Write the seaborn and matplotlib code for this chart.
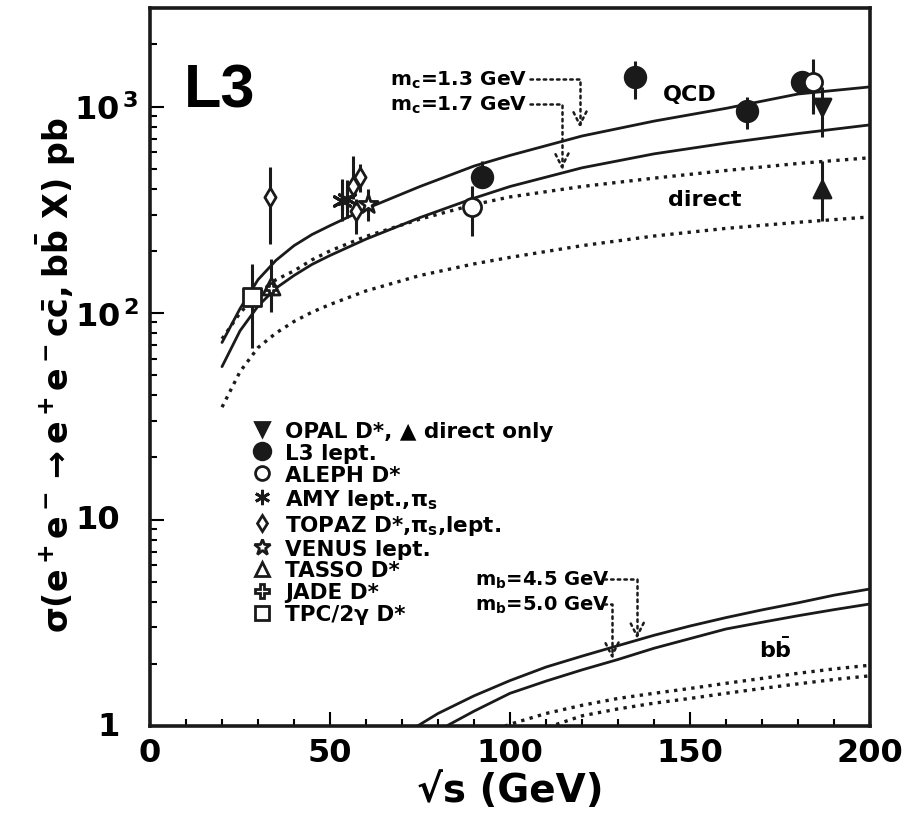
import matplotlib
matplotlib.use('Agg')
import matplotlib.pyplot as plt
import matplotlib.transforms as mtransforms
import seaborn as sns
from matplotlib.lines import Line2D
from matplotlib.ticker import FixedLocator, FixedFormatter, LogLocator, NullFormatter, MultipleLocator

# charm theory curves
x_c = [20, 25, 30, 35, 40, 45, 50, 60, 75, 90, 100, 120, 140, 160, 180, 200]
qcd_mc13 = [72, 105, 145, 180, 212, 240, 265, 320, 410, 515, 580, 720, 850, 980, 1150, 1245]
qcd_mc17 = [55, 82, 108, 132, 152, 172, 190, 228, 290, 360, 410, 505, 590, 665, 740, 815]
dir_mc13 = [75, 100, 125, 145, 160, 181, 200, 235, 285, 335, 365, 410, 450, 490, 530, 565]
dir_mc17 = [35, 52, 68, 80, 91, 101, 110, 128, 152, 173, 186, 212, 236, 257, 275, 292]

# beauty theory curves
x_b = [70, 80, 90, 100, 110, 120, 130, 140, 150, 160, 170, 180, 190, 200]
qcd_mb45 = [0.9, 1.15, 1.40, 1.66, 1.93, 2.18, 2.45, 2.75, 3.05, 3.35, 3.65, 3.95, 4.30, 4.61]
qcd_mb50 = [0.72, 0.95, 1.18, 1.44, 1.65, 1.87, 2.10, 2.38, 2.65, 2.95, 3.18, 3.42, 3.66, 3.90]
dir_mb45 = [0.60, 0.75, 0.88, 1.02, 1.15, 1.26, 1.36, 1.44, 1.52, 1.61, 1.70, 1.80, 1.89, 1.97]
dir_mb50 = [0.55, 0.68, 0.80, 0.90, 0.98, 1.12, 1.21, 1.29, 1.36, 1.44, 1.52, 1.60, 1.68, 1.75]

# measurements: sqrt(s), sigma, lower and upper end of error bar
opal_x, opal_y, opal_lo, opal_hi = [186.6], [995], [711], [1243]
opal_dir_x, opal_dir_y, opal_dir_lo, opal_dir_hi = [186.6], [398], [279], [545]
l3_x = [92.2, 134.7, 165.8, 181.2]
l3_y = [456, 1390, 951, 1315]
l3_lo = [407, 1088, 778, 1220]
l3_hi = [545, 1660, 1112, 1400]
aleph_x = [89.4, 184.2]
aleph_y = [326, 1315]
aleph_lo = [236, 920]
aleph_hi = [412, 1700]
amy_x = [53.2, 54.6]
amy_y = [350, 357]
amy_lo = [280, 290]
amy_hi = [446, 440]
topaz_x = [33.3, 56.5, 57.2, 58.3]
topaz_y = [365, 414, 313, 456]
topaz_lo = [216, 356, 241, 385]
topaz_hi = [510, 578, 356, 527]
venus_x, venus_y, venus_lo, venus_hi = [60.6], [337], [279], [398]
tasso_x, tasso_y, tasso_lo, tasso_hi = [33.6], [135], [101], [182]
jade_x, jade_y = [33.6], [132]
tpc_x, tpc_y, tpc_lo, tpc_hi = [28.3], [120], [68], [173]

y_ticks = [1, 10, 100, 1000]
x_ticks = [0, 50, 100, 150, 200]

sns.set_theme(style='ticks')
plt.rcParams['font.family'] = ['DejaVu Sans']
plt.rcParams['font.weight'] = 'bold'
plt.rcParams['mathtext.fontset'] = 'custom'
plt.rcParams['mathtext.rm'] = 'DejaVu Sans:bold'
plt.rcParams['mathtext.it'] = 'DejaVu Sans:bold'
plt.rcParams['mathtext.bf'] = 'DejaVu Sans:bold'
plt.rcParams['mathtext.default'] = 'rm'
for key in ['text.color', 'axes.labelcolor', 'xtick.color', 'ytick.color', 'axes.edgecolor']:
    plt.rcParams[key] = 'black'

fig = plt.figure(figsize=(9.07, 8.2), dpi=100)
ax = fig.add_axes([0.1654, 0.1134, 0.7938, 0.8756])

dots = (0, (1.0, 1.6))
for ys in [qcd_mc13, qcd_mc17]:
    sns.lineplot(x=x_c, y=ys, ax=ax, color='k', lw=2.0)
for ys in [dir_mc13, dir_mc17]:
    sns.lineplot(x=x_c, y=ys, ax=ax, color='k', lw=2.4, linestyle=dots)
for ys in [qcd_mb45, qcd_mb50]:
    sns.lineplot(x=x_b, y=ys, ax=ax, color='k', lw=2.0)
for ys in [dir_mb45, dir_mb50]:
    sns.lineplot(x=x_b, y=ys, ax=ax, color='k', lw=2.4, linestyle=dots)

# error bars
for xs, lo, hi in [(opal_x, opal_lo, opal_hi), (opal_dir_x, opal_dir_lo, opal_dir_hi),
                   (l3_x, l3_lo, l3_hi), (aleph_x, aleph_lo, aleph_hi),
                   (amy_x, amy_lo, amy_hi), (topaz_x, topaz_lo, topaz_hi),
                   (venus_x, venus_lo, venus_hi), (tasso_x, tasso_lo, tasso_hi),
                   (tpc_x, tpc_lo, tpc_hi)]:
    ax.vlines(xs, lo, hi, color='k', lw=2.2, zorder=3)

asterisk = (6, 2, 0)
points = [
    (opal_x, opal_y, 'v', 'k', 150),
    (opal_dir_x, opal_dir_y, '^', 'k', 150),
    (l3_x, l3_y, 'o', 'k', 220),
    (aleph_x, aleph_y, 'o', 'white', 170),
    (topaz_x, topaz_y, 'd', 'white', 90),
    (venus_x, venus_y, '*', 'white', 200),
    (tasso_x, tasso_y, '^', 'white', 150),
    (tpc_x, tpc_y, 's', 'white', 170),
    (jade_x, jade_y, 'P', 'white', 60),
]
for xs, ys, m, fc, s in points:
    sns.scatterplot(x=xs, y=ys, ax=ax, marker=m, s=s, color=fc, edgecolor='k',
                    linewidth=2.0, zorder=4)
sns.scatterplot(x=amy_x, y=amy_y, ax=ax, marker=asterisk, s=180, color='k',
                linewidth=2.2, zorder=4)

ax.set_yscale('log')
ax.set_xlim(0, 200)
ax.set_ylim(1, 3000)

# 1 and 10 sit further left than the 10^n labels in the original
ax.yaxis.set_major_locator(FixedLocator(y_ticks))
ax.yaxis.set_major_formatter(FixedFormatter(['', '', r'$10^{\,2}$', r'$10^{\,3}$']))
ax.yaxis.set_minor_locator(LogLocator(base=10, subs=range(2, 10)))
ax.yaxis.set_minor_formatter(NullFormatter())
ax.xaxis.set_major_locator(FixedLocator(x_ticks))
ax.xaxis.set_minor_locator(MultipleLocator(10))

ax.tick_params(which='both', direction='in', labelsize=23, width=1.5, pad=8, colors='black')
ax.tick_params(which='major', length=10)
ax.tick_params(which='minor', length=5)
for sp in ax.spines.values():
    sp.set_linewidth(2.6)
    sp.set_color('k')

blend = mtransforms.blended_transform_factory(ax.transAxes, ax.transData)
for v in y_ticks[:2]:
    ax.text(-0.042, v, str(v), transform=blend, fontsize=23, ha='right', va='center')

ax.set_xlabel('√s (GeV)', fontsize=28, fontweight='bold')
ax.set_ylabel(r'$\sigma(\mathrm{e^+e^-}\rightarrow\mathrm{e^+e^-c\bar{c},b\bar{b}\ X})$ pb',
              fontsize=24, fontweight='bold')
ax.xaxis.set_label_coords(0.5, -0.062)
ax.yaxis.set_label_coords(-0.1, 0.49)

ax.text(9.5, 1000, 'L3', fontsize=44, fontweight='bold', family='Liberation Sans')
ax.text(150, 1150, 'QCD', fontsize=16, fontweight='bold', ha='center', va='center')
ax.text(154, 356, 'direct', fontsize=16, fontweight='bold', ha='center', va='center')
ax.text(173.6, 2.36, r'b$\bar{\mathrm{b}}$', fontsize=16, fontweight='bold', ha='center', va='center')

# mass labels with dotted arrows
arrow = dict(arrowstyle='->', linestyle=':', lw=1.8, color='k', mutation_scale=24,
             shrinkA=0, shrinkB=0, connectionstyle='angle,angleA=0,angleB=90,rad=0')
ax.text(66.7, 1360, r'm$_{\mathrm{c}}$=1.3 GeV', fontsize=14.5, va='center')
ax.text(66.7, 1028, r'm$_{\mathrm{c}}$=1.7 GeV', fontsize=14.5, va='center')
ax.annotate('', xy=(119.4, 790), xytext=(105.5, 1360), arrowprops=arrow)
ax.annotate('', xy=(114.4, 495), xytext=(105.5, 1028), arrowprops=arrow)
ax.text(90.3, 5.15, r'm$_{\mathrm{b}}$=4.5 GeV', fontsize=14, va='center')
ax.text(90.3, 3.90, r'm$_{\mathrm{b}}$=5.0 GeV', fontsize=14, va='center')
ax.annotate('', xy=(135.3, 2.64), xytext=(126, 5.15), arrowprops=arrow)
ax.annotate('', xy=(128.3, 2.12), xytext=(126, 3.90), arrowprops=arrow)

# legend
def h(m, fc, ms):
    return Line2D([], [], ls='none', marker=m, ms=ms, mfc=fc, mec='k', mew=2.0, color='k')

handles = [h('v', 'k', 10), h('o', 'k', 12), h('o', 'white', 10), h(asterisk, 'k', 11),
           h('d', 'white', 8), h('*', 'white', 12), h('^', 'white', 10), h('P', 'white', 10),
           h('s', 'white', 10)]
labels = ['OPAL D*, ▲ direct only', 'L3 lept.', 'ALEPH D*', r'AMY lept.,$\pi_{\mathrm{s}}$',
          r'TOPAZ D*,$\pi_{\mathrm{s}}$,lept.', 'VENUS lept.', 'TASSO D*', 'JADE D*',
          'TPC/2γ D*']
ax.legend(handles, labels, loc='upper left', bbox_to_anchor=(0.14, 0.425), frameon=False,
          fontsize=15.5, labelspacing=0.09, handletextpad=0.6, handlelength=1.0,
          borderpad=0, borderaxespad=0)

fig.savefig('out.png', dpi=100)
